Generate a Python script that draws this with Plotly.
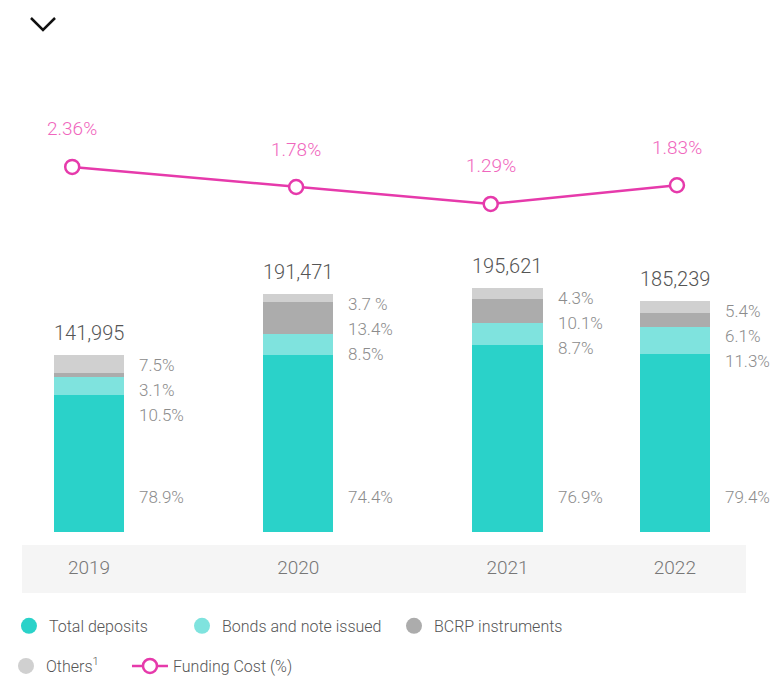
import plotly.graph_objects as go

# ---- data ----
years = ["2019", "2020", "2021", "2022"]
totals = [141995, 191471, 195621, 185239]
total_labels = ["141,995", "191,471", "195,621", "185,239"]
deposits = [109900, 142454, 150433, 143040]
bonds = [14450, 16275, 17019, 21900]
bcrp = [3200, 25657, 19758, 11300]
others = [14445, 7085, 8411, 8999]
# percentage labels (top to bottom: others, BCRP, bonds) and deposits
pct_top = [["7.5%", "3.1%", "10.5%"],
           ["3.7 %", "13.4%", "8.5%"],
           ["4.3%", "10.1%", "8.7%"],
           ["5.4%", "6.1%", "11.3%"]]
pct_deposits = ["78.9%", "74.4%", "76.9%", "79.4%"]
funding_cost = [2.36, 1.78, 1.29, 1.83]
funding_labels = ["2.36%", "1.78%", "1.29%", "1.83%"]

# ---- layout constants ----
bar_pos = [0, 1, 2, 2.8]
line_pos = [-0.08, 0.99, 1.92, 2.81]
bar_w = 0.335
FONT = "Roboto, 'Open Sans', sans-serif"
W = 300

C_DEP = "#2ad2c9"
C_BOND = "#7fe3de"
C_BCRP = "#acacac"
C_OTH = "#d0d0d0"
C_LINE = "#e63aab"
C_LINE_TXT = "#f066bd"

fig = go.Figure()

for name, vals, col in [("Total deposits", deposits, C_DEP),
                        ("Bonds and note issued", bonds, C_BOND),
                        ("BCRP instruments", bcrp, C_BCRP),
                        ("Others<sup>1</sup>", others, C_OTH)]:
    fig.add_trace(go.Bar(x=bar_pos, y=vals, width=bar_w, marker_color=col,
                         marker_line_width=0, showlegend=False, hoverinfo="skip"))

# legend proxies (one legend per entry for exact placement)
for name, col, lg in [("Total deposits", C_DEP, "legend"),
                      ("Bonds and note issued", C_BOND, "legend2"),
                      ("BCRP instruments", C_BCRP, "legend3"),
                      ("Others<sup>1</sup>", C_OTH, "legend4")]:
    fig.add_trace(go.Scatter(x=[None], y=[None], mode="markers", name=name,
                             marker=dict(symbol="circle", size=16, color=col),
                             legend=lg))

fig.add_trace(go.Scatter(x=line_pos, y=funding_cost, yaxis="y2", mode="lines+markers",
                         name="Funding Cost (%)", legend="legend5",
                         line=dict(color=C_LINE, width=2.5),
                         marker=dict(symbol="circle", size=14, color="white",
                                     line=dict(color=C_LINE, width=2.5))))

ann = []
for i in range(4):
    ann.append(dict(x=bar_pos[i], y=totals[i], xref="x", yref="y", text=total_labels[i],
                    showarrow=False, yshift=22,
                    font=dict(size=20, color="#555555", family=FONT, weight=W)))
    for j, t in enumerate(pct_top[i]):
        ann.append(dict(x=bar_pos[i] + bar_w / 2, y=totals[i], xref="x", yref="y", text=t,
                        showarrow=False, xanchor="left", xshift=13, yshift=-(10 + 25 * j),
                        font=dict(size=17, color="#8c8c8c", family=FONT, weight=W)))
    ann.append(dict(x=bar_pos[i] + bar_w / 2, y=0, xref="x", yref="y", text=pct_deposits[i],
                    showarrow=False, xanchor="left", xshift=13, yshift=35,
                    font=dict(size=17, color="#8c8c8c", family=FONT, weight=W)))
    ann.append(dict(x=line_pos[i], y=funding_cost[i], xref="x", yref="y2", text=funding_labels[i],
                    showarrow=False, yshift=38,
                    font=dict(size=19, color=C_LINE_TXT, family=FONT, weight=W)))

shapes = [
    dict(type="rect", xref="paper", yref="paper", x0=0, x1=1, y0=-0.129, y1=-0.0275,
         fillcolor="#f5f5f5", line_width=0, layer="below"),
    dict(type="path", xref="paper", yref="paper",
         path="M 0.0124 1.089 L 0.029 1.0636 L 0.0456 1.089",
         line=dict(color="#111111", width=2.5)),
]

leg_font = dict(size=16, color="#555555", family=FONT, weight=W)


def leg(x, y, iw=30):
    return dict(orientation="h", x=x, xanchor="left", y=y, yanchor="middle",
                font=leg_font, itemsizing="trace", itemwidth=iw,
                traceorder="normal", bgcolor="rgba(0,0,0,0)")


fig.update_layout(
    width=772, height=677,
    margin=dict(l=22, r=26, t=60, b=145, autoexpand=False),
    paper_bgcolor="white", plot_bgcolor="rgba(0,0,0,0)",
    barmode="stack",
    font=dict(family=FONT, color="#555555"),
    xaxis=dict(range=[-0.32, 3.14], tickvals=bar_pos, ticktext=years,
               showgrid=False, zeroline=False, showline=False, ticks="",
               ticklabelstandoff=22,
               tickfont=dict(size=19, color="#777777", family=FONT, weight=W)),
    yaxis=dict(range=[0, 379000], visible=False),
    yaxis2=dict(range=[-8.19, 5.45], overlaying="y", visible=False),
    legend=leg(-0.018, -0.199),
    legend2=leg(0.221, -0.199),
    legend3=leg(0.5138, -0.199),
    legend4=leg(-0.0221, -0.284),
    legend5=leg(0.145, -0.284, iw=36),
    annotations=ann,
    shapes=shapes,
)

fig.write_html("out.html", config={"displayModeBar": False},
               post_script="document.body.style.margin='0';")
